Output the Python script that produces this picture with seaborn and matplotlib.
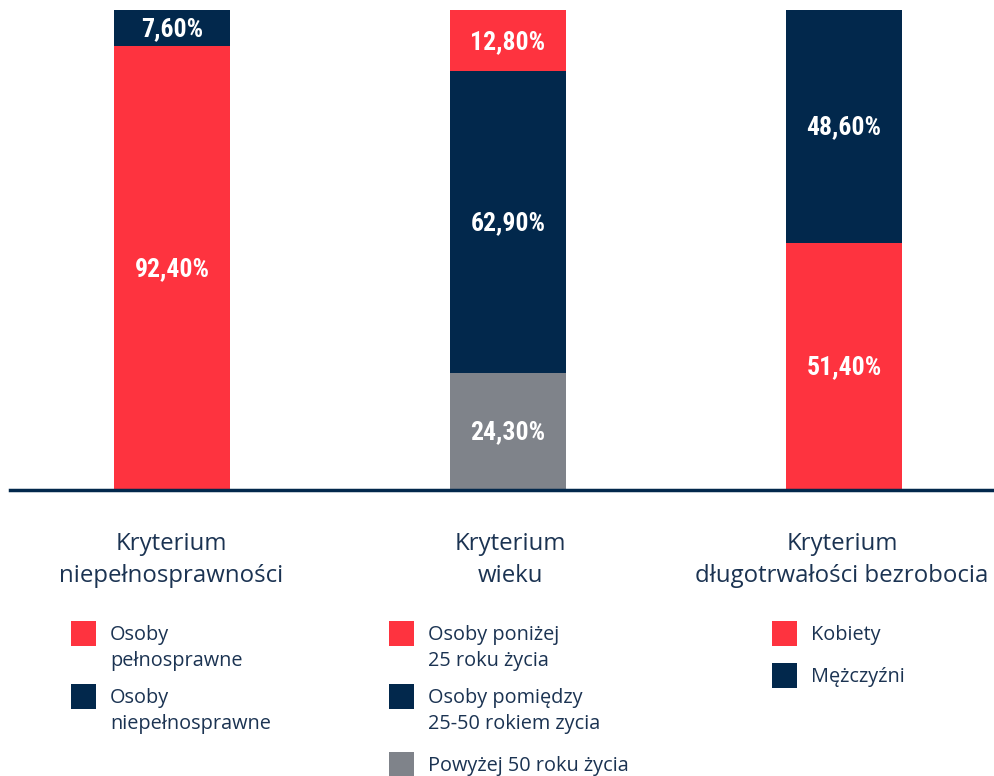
import matplotlib
matplotlib.use("Agg")
import matplotlib.pyplot as plt
from matplotlib.patches import Rectangle
import pandas as pd
import seaborn as sns

RED = "#fe333f"
NAVY = "#02284c"
GRAY = "#7f838a"
TEXT = "#1b3352"

# Criteria shown along the x axis
criteria = ["niepełnosprawności", "wieku", "długotrwałości bezrobocia"]
titles = ["Kryterium\nniepełnosprawności", "Kryterium\nwieku",
          "Kryterium\ndługotrwałości bezrobocia"]

# Segments of each stacked bar, listed bottom to top
groups_disability = ["Osoby pełnosprawne", "Osoby niepełnosprawne"]
values_disability = [92.4, 7.6]
colors_disability = [RED, NAVY]

groups_age = ["Powyżej 50 roku życia", "Osoby pomiędzy 25-50 rokiem zycia",
              "Osoby poniżej 25 roku życia"]
values_age = [24.3, 62.9, 12.8]
colors_age = [GRAY, NAVY, RED]

groups_unemployment = ["Kobiety", "Mężczyźni"]
values_unemployment = [51.4, 48.6]
colors_unemployment = [RED, NAVY]

# Legend entries under each bar, top to bottom
legend_disability = [("Osoby\npełnosprawne", RED), ("Osoby\nniepełnosprawne", NAVY)]
legend_age = [("Osoby poniżej\n25 roku życia", RED),
              ("Osoby pomiędzy\n25-50 rokiem zycia", NAVY),
              ("Powyżej 50 roku życia", GRAY)]
legend_unemployment = [("Kobiety", RED), ("Mężczyźni", NAVY)]

rows = []
for crit, groups, vals, cols in [
    (criteria[0], groups_disability, values_disability, colors_disability),
    (criteria[1], groups_age, values_age, colors_age),
    (criteria[2], groups_unemployment, values_unemployment, colors_unemployment),
]:
    cum = 0.0
    for g, v, c in zip(groups, vals, cols):
        rows.append(dict(kryterium=crit, grupa=g, wartosc=v, dol=cum,
                         gora=cum + v, kolor=c))
        cum += v
df = pd.DataFrame(rows)

sns.set_style("white")
W_PX, H_PX = 995, 776
fig = plt.figure(figsize=(W_PX / 100, H_PX / 100), dpi=100)
ax = fig.add_axes([10 / W_PX, (H_PX - 490) / H_PX, 985 / W_PX, 480 / H_PX])

BAR_W = 0.345
# Stacked bars: cumulative heights drawn tallest first, each lower level on top
for _, row in df.sort_values("gora", ascending=False).iterrows():
    sns.barplot(data=pd.DataFrame([row]), x="kryterium", y="gora", order=criteria,
                color=row["kolor"], width=BAR_W, saturation=1, linewidth=0,
                errorbar=None, ax=ax)

label_font = ["Roboto Condensed", "Roboto", "DejaVu Sans"]
for _, row in df.iterrows():
    xi = criteria.index(row["kryterium"])
    txt = f"{row['wartosc']:.2f}".replace(".", ",") + "%"
    ax.annotate(txt, (xi, row["dol"] + row["wartosc"] / 2), xytext=(0, -1),
                textcoords="offset pixels", ha="center", va="center",
                color="white", fontsize=18.5, fontweight="bold", family=label_font)

ax.set_xlim(-0.482, 2.449)
ax.set_ylim(0, 100)
ax.set_xlabel("")
ax.set_ylabel("")
ax.set_xticks([])
ax.set_yticks([])
for side in ["top", "left", "right"]:
    ax.spines[side].set_visible(False)
ax.spines["bottom"].set_color(NAVY)
ax.spines["bottom"].set_linewidth(2.5)


def fx(x):
    return x / W_PX


def fy(y):
    return 1 - y / H_PX


text_font = ["Open Sans", "DejaVu Sans"]

# Titles under the bars
for cx, t in zip([171, 510, 842], titles):
    fig.text(fx(cx), fy(560), t, ha="center", va="center", fontsize=17.3,
             color=TEXT, family=text_font, linespacing=1.5)


def legend_entries(x0, entries, ys):
    for (label, color), y in zip(entries, ys):
        fig.add_artist(Rectangle((fx(x0), fy(y + 25)), 25 / W_PX, 25 / H_PX,
                                 transform=fig.transFigure, color=color, lw=0))
        fig.text(fx(x0 + 39), fy(y + 4), label, ha="left", va="top",
                 fontsize=14.3, color=TEXT, family=text_font, linespacing=1.43)


legend_entries(71, legend_disability, [621, 684])
legend_entries(389, legend_age, [621, 684, 752])
legend_entries(772, legend_unemployment, [621, 663])

fig.savefig("out.png", dpi=100)
